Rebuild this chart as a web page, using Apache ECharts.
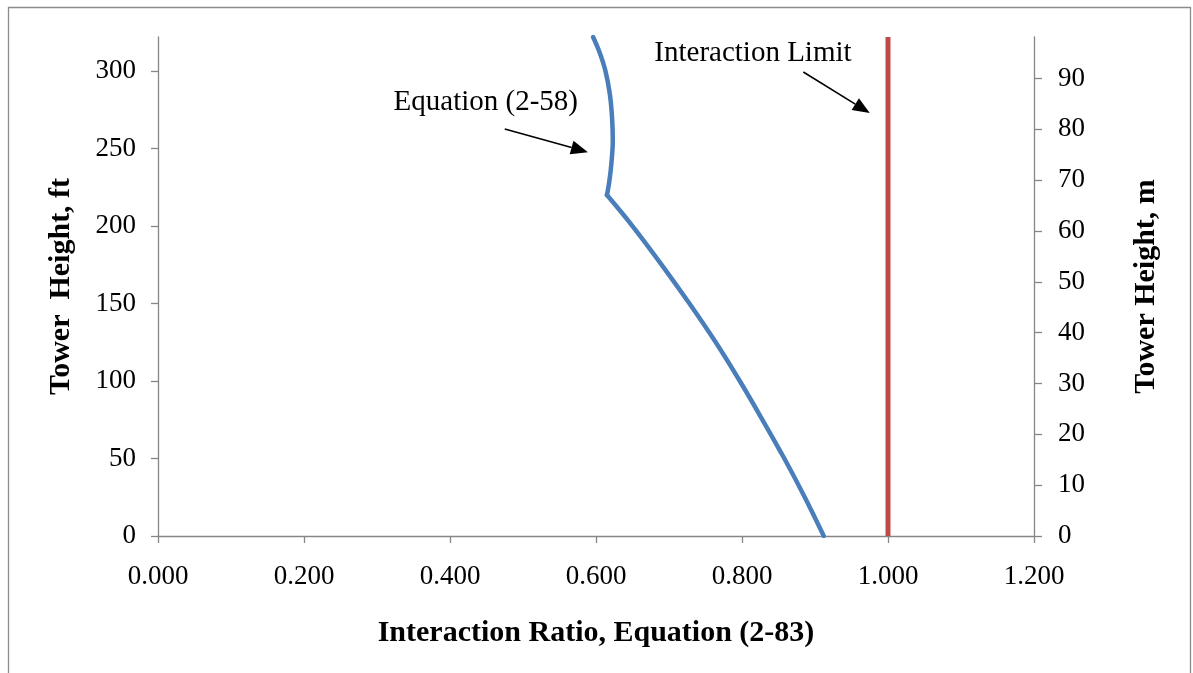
<!DOCTYPE html>
<html>
<head>
<meta charset="utf-8">
<script src="https://cdn.jsdelivr.net/npm/echarts@6/dist/echarts.min.js"></script>
<style>
html,body{margin:0;padding:0;background:#fff;}
#chart{width:1193px;height:673px;}
</style>
</head>
<body>
<div id="chart"></div>
<script>
// Data (interaction ratio vs tower height in ft), Equation (2-58) curve, split at the kink (220 ft)
const eq258LowerRatio = [0.912, 0.886, 0.858, 0.828, 0.797, 0.764, 0.728, 0.690, 0.650, 0.615];
const eq258LowerHeight = [0, 25, 50, 75, 100, 125, 150, 175, 200, 220];
const eq258UpperRatio = [0.615, 0.618, 0.621, 0.623, 0.622, 0.619, 0.613, 0.605, 0.596];
const eq258UpperHeight = [220, 228, 240, 255, 270, 285, 300, 312, 322];
const limitRatio = [1.0, 1.0];
const limitHeight = [0, 322];
const xTicks = [0, 0.2, 0.4, 0.6, 0.8, 1.0, 1.2];
const ftTicks = [0, 50, 100, 150, 200, 250, 300];
const mTicks = [0, 10, 20, 30, 40, 50, 60, 70, 80, 90];
const ftMax = 322;
const ftToM = 0.3048;

const chart = echarts.init(document.getElementById('chart'));
const serif = '"Liberation Serif","Times New Roman",serif';
const axisCol = '#868686';
const blue = '#4A7EBB';

const option = {
  animation: false,
  backgroundColor: '#fff',
  grid: {left: 158, right: 159, top: 37, bottom: 137, containLabel: false},
  xAxis: {
    type: 'value', min: 0, max: 1.2, interval: 0.2,
    name: 'Interaction Ratio, Equation (2-83)', nameLocation: 'middle', nameGap: 82,
    nameTextStyle: {fontFamily: serif, fontWeight: 'bold', fontSize: 30, color: '#000'},
    axisLine: {show: true, lineStyle: {color: axisCol, width: 1.3}},
    axisTick: {show: true, length: 7, inside: false, lineStyle: {color: axisCol, width: 1.3}, customValues: xTicks},
    axisLabel: {fontFamily: serif, fontSize: 27, color: '#000', margin: 27, customValues: xTicks,
      formatter: v => v.toFixed(3)},
    splitLine: {show: false}
  },
  yAxis: [{
    type: 'value', min: 0, max: ftMax, position: 'left',
    name: 'Tower  Height, ft', nameLocation: 'middle', nameGap: 82, nameRotate: 90,
    nameTextStyle: {fontFamily: serif, fontWeight: 'bold', fontSize: 30, color: '#000'},
    axisLine: {show: true, lineStyle: {color: axisCol, width: 1.3}},
    axisTick: {show: true, length: 7, lineStyle: {color: axisCol, width: 1.3}, customValues: ftTicks},
    axisLabel: {fontFamily: serif, fontSize: 27, color: '#000', margin: 22, customValues: ftTicks},
    splitLine: {show: false}
  }, {
    type: 'value', min: 0, max: ftMax * ftToM, position: 'right',
    name: 'Tower Height, m', nameLocation: 'middle', nameGap: 97, nameRotate: 90,
    nameTextStyle: {fontFamily: serif, fontWeight: 'bold', fontSize: 30, color: '#000'},
    axisLine: {show: true, lineStyle: {color: axisCol, width: 1.3}},
    axisTick: {show: true, length: 8, lineStyle: {color: axisCol, width: 1.3}, customValues: mTicks},
    axisLabel: {fontFamily: serif, fontSize: 27, color: '#000', margin: 24, customValues: mTicks},
    splitLine: {show: false}
  }],
  series: [{
    type: 'line', name: 'Equation (2-58)', xAxisIndex: 0, yAxisIndex: 0,
    data: eq258LowerRatio.map((r, i) => [r, eq258LowerHeight[i]]),
    showSymbol: false, symbol: 'none', smooth: 0.35,
    lineStyle: {color: blue, width: 4.5, join: 'round', cap: 'round'}
  }, {
    type: 'line', name: 'Equation (2-58)', xAxisIndex: 0, yAxisIndex: 0,
    data: eq258UpperRatio.map((r, i) => [r, eq258UpperHeight[i]]),
    showSymbol: false, symbol: 'none', smooth: 0.35,
    lineStyle: {color: blue, width: 4.5, join: 'round', cap: 'round'}
  }, {
    type: 'line', name: 'Interaction Limit', xAxisIndex: 0, yAxisIndex: 0,
    data: limitRatio.map((r, i) => [r, limitHeight[i]]),
    showSymbol: false, symbol: 'none',
    lineStyle: {color: '#BE4B48', width: 5}
  }]
};
chart.setOption(option);

// Annotations placed in data coordinates
const px = (x, y) => chart.convertToPixel({xAxisIndex: 0, yAxisIndex: 0}, [x, y]);
function arrow(a, b) {
  const p1 = px(a[0], a[1]), p2 = px(b[0], b[1]);
  const ang = Math.atan2(p2[1] - p1[1], p2[0] - p1[0]);
  const L = 17, W = 7;
  const bx = p2[0] - L * Math.cos(ang), by = p2[1] - L * Math.sin(ang);
  const nx = -Math.sin(ang), ny = Math.cos(ang);
  return [
    {type: 'line', shape: {x1: p1[0], y1: p1[1], x2: bx, y2: by}, style: {stroke: '#000', lineWidth: 1.6}, silent: true},
    {type: 'polygon', shape: {points: [[p2[0], p2[1]], [bx + nx * W, by + ny * W], [bx - nx * W, by - ny * W]]}, style: {fill: '#000'}, silent: true}
  ];
}
const t1 = px(0.449, 280), t2 = px(0.815, 311.6);
chart.setOption({
  graphic: [
    {type: 'rect', shape: {x: 8.5, y: 7.5, width: 1182, height: 700}, style: {fill: 'none', stroke: '#8c8c8c', lineWidth: 1.3}, silent: true},
    {type: 'text', x: t1[0], y: t1[1], style: {text: 'Equation (2-58)', font: '29px ' + serif, fill: '#000', textAlign: 'center', textVerticalAlign: 'middle'}},
    {type: 'text', x: t2[0], y: t2[1], style: {text: 'Interaction Limit', font: '29px ' + serif, fill: '#000', textAlign: 'center', textVerticalAlign: 'middle'}},
    ...arrow([0.475, 262.6], [0.589, 247.7]),
    ...arrow([0.884, 299.4], [0.975, 272.9])
  ]
});
</script>
</body>
</html>
